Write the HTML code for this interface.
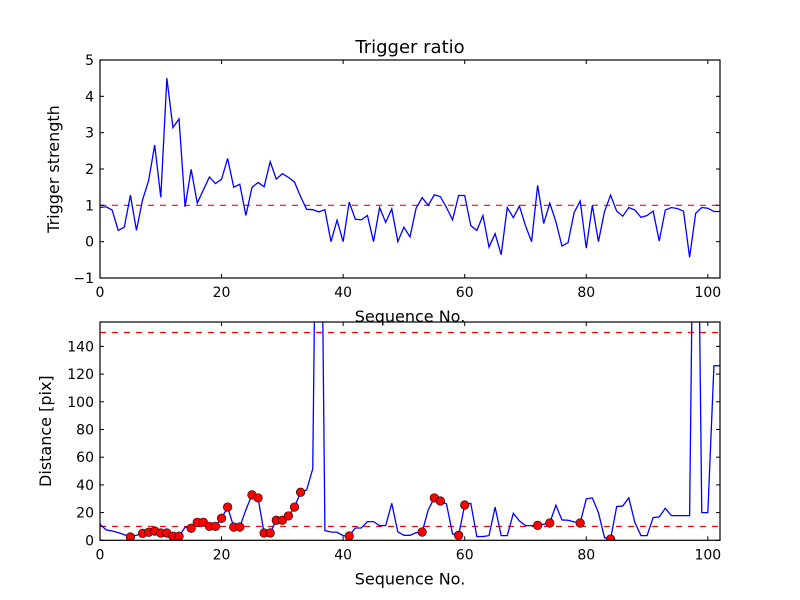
<!DOCTYPE html>
<html><head><meta charset="utf-8"><style>
body{margin:0;background:#fff}
svg{display:block;font-family:"DejaVu Sans","Liberation Sans",sans-serif}
</style></head><body>
<svg id="c" width="800" height="600" viewBox="0 0 800 600"></svg>
<script>
const strength=[0.94,0.96,0.87,0.31,0.4,1.28,0.31,1.15,1.68,2.66,1.22,4.5,3.14,3.38,0.96,1.99,1.06,1.42,1.78,1.6,1.72,2.29,1.5,1.58,0.72,1.49,1.63,1.51,2.2,1.72,1.87,1.77,1.64,1.24,0.89,0.88,0.82,0.88,0,0.59,0,1.09,0.62,0.6,0.72,0,0.94,0.53,0.9,0,0.4,0.13,0.92,1.21,1.0,1.29,1.24,0.94,0.6,1.27,1.27,0.44,0.31,0.72,-0.15,0.22,-0.36,0.94,0.66,0.98,0.44,0,1.55,0.5,1.06,0.55,-0.12,-0.03,0.8,1.12,-0.18,1.0,0,0.83,1.28,0.84,0.7,0.94,0.87,0.67,0.72,0.84,0.02,0.87,0.94,0.91,0.84,-0.43,0.78,0.94,0.92,0.83,0.83];
const distance=[11.6,7.5,6.7,5.5,4,2.4,3.6,5,5.8,6.7,5.3,5.3,2.9,2.9,9.4,8.7,13,13,10.1,10.1,15.9,24,9.6,9.6,22,32.8,30.6,5.3,5.3,14.5,14.5,17.6,24,34.7,36.4,51.6,450,7,6,5.8,3.4,3.1,8.9,8.9,13.5,13.5,10.6,10.6,26.7,6,3.6,3.6,5.5,6,22,30.6,28.4,26.3,4.6,3.6,25.5,26.7,2.7,2.7,3.4,23.9,3.4,3.4,19.5,14,10.6,10.6,10.8,11.6,12.5,25.3,14.7,14.5,13.3,12.5,29.9,30.6,20,1.9,0.9,24.3,24.8,30.6,12.8,3.4,3.4,16.4,16.9,23.1,17.8,17.8,17.8,17.8,410,20,20,126,126];
const markerIdx=[5,7,8,9,10,11,12,13,15,16,17,18,19,20,21,22,23,25,26,27,28,29,30,31,32,33,41,53,55,56,59,60,72,74,79,84];
const xTicks=[0,20,40,60,80,100];
const topTicks=[-1,0,1,2,3,4,5];
const botTicks=[0,20,40,60,80,100,120,140];
const topRef=[1];
const botRef=[10,150];

const NS="http://www.w3.org/2000/svg",svg=document.getElementById('c');
function mk(t,a,p){const e=document.createElementNS(NS,t);for(const k in a)e.setAttribute(k,a[k]);(p||svg).appendChild(e);return e;}
const L=100,R=720,XMAX=102;
const X=v=>L+(v/XMAX)*(R-L);
function panel(name,top,bot,ymin,ymax,data,ticks,refs,ylabel,ylx,markers){
  const g=mk('g',{});
  
  
  const Y=v=>bot-(v-ymin)/(ymax-ymin)*(bot-top);
  const cid='clip-'+name;
  const cp=mk('clipPath',{id:cid},g);mk('rect',{x:L,y:top,width:R-L,height:bot-top},cp);
  const cg=mk('g',{'clip-path':'url(#'+cid+')'},g);
  refs.forEach(r=>{const l=mk('line',{x1:L,x2:R,y1:Y(r),y2:Y(r),stroke:'#ff0000','stroke-width':1.2,'stroke-dasharray':'6,6'},cg);
    });
  const p=mk('polyline',{points:data.map((v,i)=>X(i)+','+Y(v)).join(' '),fill:'none',stroke:'#0000ff','stroke-width':1.3},cg);
  
  (markers||[]).forEach(i=>{const c=mk('circle',{cx:X(i),cy:Y(data[i]),r:4.3,fill:'#ff0000',stroke:'#000','stroke-width':0.6},cg);
    });
  const f=mk('rect',{x:L,y:top,width:R-L,height:bot-top,fill:'none',stroke:'#000','stroke-width':1.2},g);
  
  xTicks.forEach(t=>{const x=X(t);
    mk('line',{x1:x,x2:x,y1:bot,y2:bot-4,stroke:'#000'},g);mk('line',{x1:x,x2:x,y1:top,y2:top+4,stroke:'#000'},g);
    const tx=mk('text',{x:x,y:bot+19,'text-anchor':'middle','font-size':14},g);tx.textContent=t;
    });
  ticks.forEach(t=>{const y=Y(t);
    mk('line',{x1:L,x2:L+4,y1:y,y2:y,stroke:'#000'},g);mk('line',{x1:R,x2:R-4,y1:y,y2:y,stroke:'#000'},g);
    const tx=mk('text',{x:L-6,y:y+5,'text-anchor':'end','font-size':14},g);tx.textContent=t==-1?'\u22121':t;
    });
  const xl=mk('text',{x:410,y:bot+44,'text-anchor':'middle','font-size':16},g);xl.textContent='Sequence No.';
  
  const yl=mk('text',{x:ylx,y:(top+bot)/2,'text-anchor':'middle','font-size':16,transform:'rotate(-90 '+ylx+' '+(top+bot)/2+')'},g);yl.textContent=ylabel;
  
}
panel('trigger-strength-panel',60,278,-1,5,strength,topTicks,topRef,'Trigger strength',59,null);
panel('distance-panel',322,540.3,0,157.6,distance,botTicks,botRef,'Distance [pix]',51,markerIdx);
const title=mk('text',{x:410,y:53,'text-anchor':'middle','font-size':18});title.textContent='Trigger ratio';


</script>
</body></html>
